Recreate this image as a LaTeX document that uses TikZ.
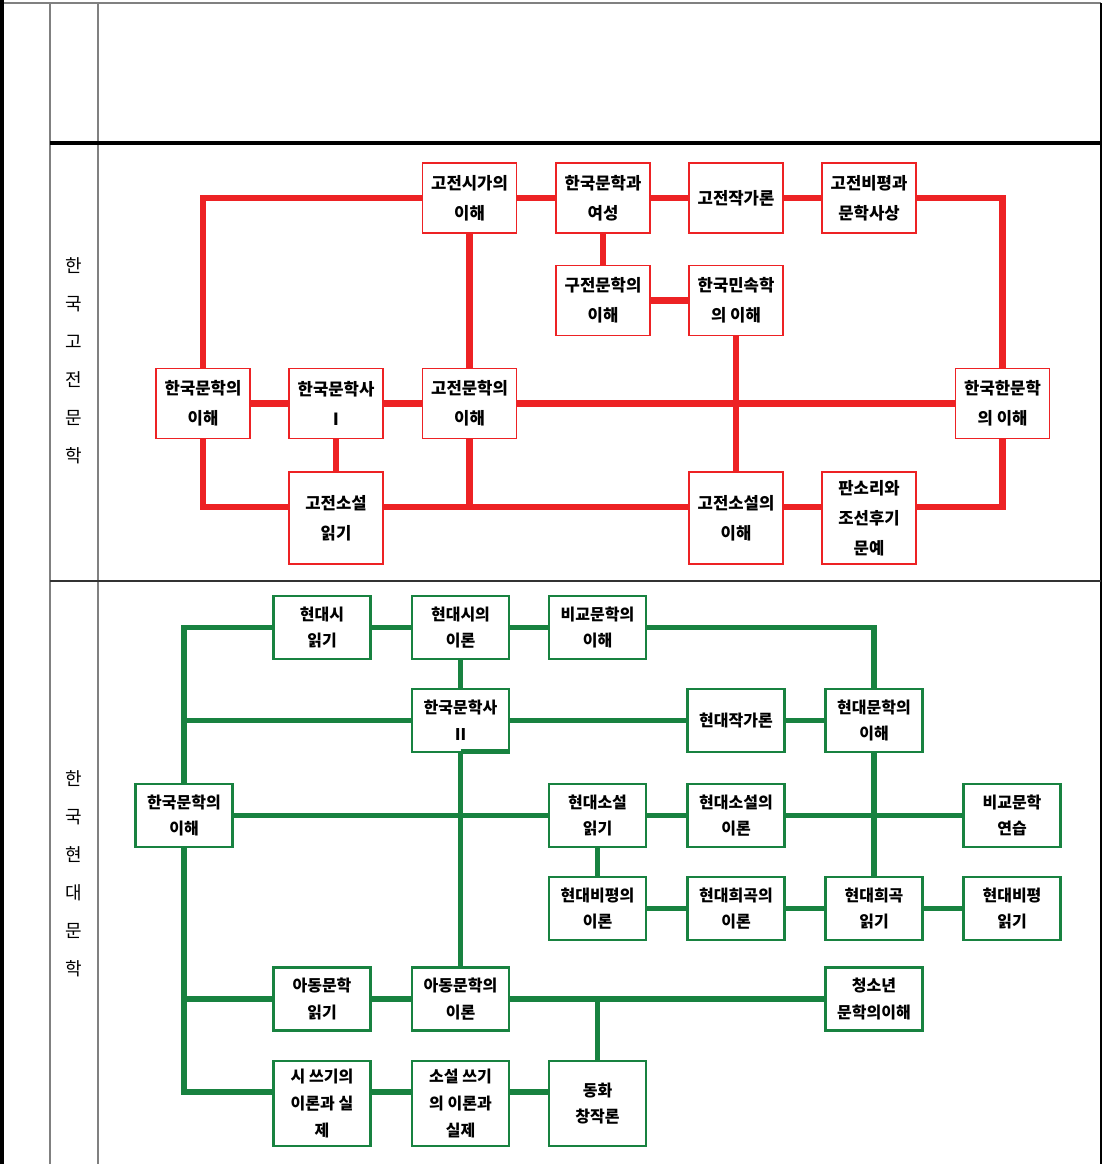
\documentclass[tikz,border=0pt]{standalone}
\usepackage{fontspec}
\setmainfont{Noto Sans CJK KR}
\definecolor{redc}{RGB}{237,34,36}
\definecolor{greenc}{RGB}{24,130,64}
\definecolor{grayc}{RGB}{128,128,128}
\begin{document}
\begin{tikzpicture}[x=0.75pt,y=-0.75pt,
  rbox/.style={draw=redc, line width=1.3pt, fill=white, align=center, inner sep=0pt,
    minimum width=70.5pt, minimum height=52.5pt, font=\fontsize{12.5}{22.5}\selectfont\bfseries},
  rtall/.style={rbox, minimum height=69pt},
  gbox/.style={draw=greenc, line width=1.8pt, fill=white, align=center, inner sep=0pt,
    minimum width=72.75pt, minimum height=47.25pt, font=\fontsize{12}{20}\selectfont\bfseries},
  gtall/.style={gbox, minimum height=63.75pt},
  rline/.style={draw=redc, line width=5pt},
  gline/.style={draw=greenc, line width=3.8pt},
  sidelabel/.style={align=center, inner sep=0pt, font=\fontsize{13.5}{28.5}\selectfont},
  tline/.style={line width=1.2pt, draw=grayc}
]
\useasboundingbox (0,0) rectangle (1103,1164);
% table frame
\draw[tline] (0,3) -- (1101,3);
\draw[tline] (50,3) -- (50,1164);
\draw[tline] (98,3) -- (98,1164);
\draw[black, line width=2.6pt] (2,0) -- (2,1164);
\draw[black, line width=1.6pt] (1101,3) -- (1101,1164);
\draw[black, line width=2.4pt] (50,143) -- (1101,143);
\draw[black!80, line width=1.5pt] (50,581) -- (1101,581);

% side labels
\node[sidelabel] (lab1) at (74,361) {한\\국\\고\\전\\문\\학};
\node[sidelabel] (lab2) at (74,874) {한\\국\\현\\대\\문\\학};

% bus coordinates
\coordinate (rb) at (0,507);
\coordinate (gb) at (0,1092);

% red boxes
\node[rbox] (n1) at (469.5,198) {고전시가의\\이해};
\node[rbox] (n2) at (603,198) {한국문학과\\여성};
\node[rbox] (n3) at (736,198) {고전작가론};
\node[rbox] (n4) at (869,198) {고전비평과\\문학사상};
\node[rbox] (n5) at (603,300.5) {구전문학의\\이해};
\node[rbox] (n6) at (736,300.5) {한국민속학\\의 이해};
\node[rbox] (n7) at (203,403.5) {한국문학의\\이해};
\node[rbox] (n8) at (336,403.5) {한국문학사\\Ⅰ};
\node[rbox] (n9) at (469.5,403.5) {고전문학의\\이해};
\node[rbox] (n10) at (1002.5,403.5) {한국한문학\\의 이해};
\node[rtall] (n11) at (336,518) {고전소설\\읽기};
\node[rtall] (n12) at (736,518) {고전소설의\\이해};
\node[rtall] (n13) at (869,518) {판소리와\\조선후기\\문예};

% red connectors
\draw[rline] (n7.north) |- (n1.west);
\draw[rline] (n1.east) -- (n2.west);
\draw[rline] (n2.east) -- (n3.west);
\draw[rline] (n3.east) -- (n4.west);
\draw[rline] (n4.east) -| (n10.north);
\draw[rline] (n1.south) -- (n9.north);
\draw[rline] (n2.south) -- (n5.north);
\draw[rline] (n5.east) -- (n6.west);
\draw[rline] (n6.south) -- (n12.north);
\draw[rline] (n7.east) -- (n8.west);
\draw[rline] (n8.east) -- (n9.west);
\draw[rline] (n9.east) -- (n10.west);
\draw[rline] (n8.south) -- (n11.north);
\draw[rline] (n7.south) |- (n11.west |- rb);
\draw[rline] (n11.east |- rb) -- (n12.west |- rb);
\draw[rline] (n9.south) -- (n9.center |- rb);
\draw[rline] (n12.east |- rb) -- (n13.west |- rb);
\draw[rline] (n13.east |- rb) -| (n10.south);

% green boxes
\node[gbox] (g1) at (322,627.5) {현대시\\읽기};
\node[gbox] (g2) at (460.5,627.5) {현대시의\\이론};
\node[gbox] (g3) at (597.5,627.5) {비교문학의\\이해};
\node[gbox] (g4) at (460.5,720.5) {한국문학사\\Ⅱ};
\node[gbox] (g5) at (736,720.5) {현대작가론};
\node[gbox] (g6) at (874,720.5) {현대문학의\\이해};
\node[gbox] (g7) at (184,815.5) {한국문학의\\이해};
\node[gbox] (g8) at (597.5,815.5) {현대소설\\읽기};
\node[gbox] (g9) at (736,815.5) {현대소설의\\이론};
\node[gbox] (g10) at (1012,815.5) {비교문학\\연습};
\node[gbox] (g11) at (597.5,908.5) {현대비평의\\이론};
\node[gbox] (g12) at (736,908.5) {현대희곡의\\이론};
\node[gbox] (g13) at (874,908.5) {현대희곡\\읽기};
\node[gbox] (g14) at (1012,908.5) {현대비평\\읽기};
\node[gbox] (g15) at (322,999) {아동문학\\읽기};
\node[gbox] (g16) at (460.5,999) {아동문학의\\이론};
\node[gbox] (g17) at (874,999) {청소년\\문학의이해};
\node[gtall] (g18) at (322,1103.5) {시 쓰기의\\이론과 실\\제};
\node[gtall] (g19) at (460.5,1103.5) {소설 쓰기\\의 이론과\\실제};
\node[gtall] (g20) at (597.5,1103.5) {동화\\창작론};

% green connectors
\draw[gline] (g7.north) |- (g1.west);
\draw[gline] (g1.east) -- (g2.west);
\draw[gline] (g2.east) -- (g3.west);
\draw[gline] (g3.east) -| (g6.north);
\draw[gline] (g2.south) -- (g4.north);
\draw[gline] (g7.north |- g4.west) -- (g4.west);
\draw[gline] (g4.east) -- (g5.west);
\draw[gline] (g5.east) -- (g6.west);
\draw[gline] (g4.south) -- (g16.north);
\draw[gline] ([yshift=1.5pt]g4.south) -- ([yshift=1.5pt]g4.south east);
\draw[gline] (g7.east) -- (g8.west);
\draw[gline] (g8.east) -- (g9.west);
\draw[gline] (g9.east) -- (g10.west);
\draw[gline] (g6.south) -- (g13.north);
\draw[gline] (g8.south) -- (g11.north);
\draw[gline] (g11.east) -- (g12.west);
\draw[gline] (g12.east) -- (g13.west);
\draw[gline] (g13.east) -- (g14.west);
\draw[gline] (g7.south) |- (g18.west |- gb);
\draw[gline] (g7.south |- g15.west) -- (g15.west);
\draw[gline] (g15.east) -- (g16.west);
\draw[gline] (g16.east) -- (g17.west);
\draw[gline] (g20.north) -- (g20.north |- g16.east);
\draw[gline] (g18.east |- gb) -- (g19.west |- gb);
\draw[gline] (g19.east |- gb) -- (g20.west |- gb);
\end{tikzpicture}
\end{document}
